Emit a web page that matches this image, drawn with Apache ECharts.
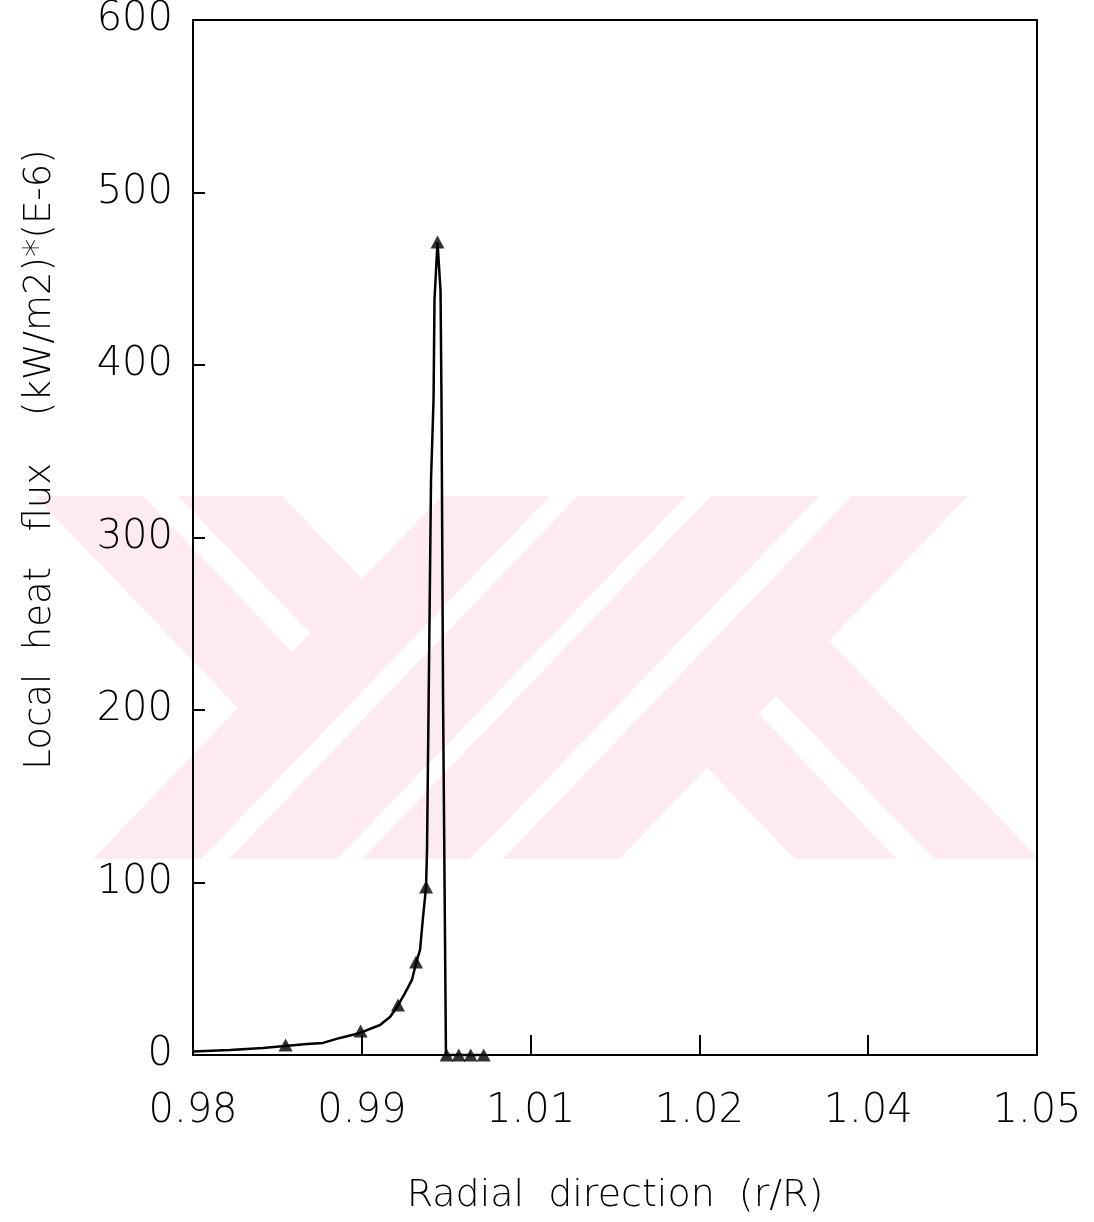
<!DOCTYPE html>
<html>
<head>
<meta charset="utf-8">
<script src="https://cdn.jsdelivr.net/npm/echarts@6/dist/echarts.min.js"></script>
<style>
html,body{margin:0;padding:0;background:#fff;}
#chart{width:1094px;height:1222px;}
</style>
</head>
<body>
<div id="chart"></div>
<script>
// ---- data ----
var xTickLabels = ['0.98', '0.99', '1.01', '1.02', '1.04', '1.05'];
var xMin = 0.98, xMax = 1.05, xStep = 0.014;
var yTickLabels = ['0', '100', '200', '300', '400', '500', '600'];
var yMin = 0, yMax = 600, yStep = 100;

var curveX = [0.98000, 0.98307, 0.98581, 0.98763, 0.98946, 0.99078, 0.99219, 0.99385, 0.99551, 0.99634,
              0.99692, 0.99758, 0.99816, 0.99850, 0.99883, 0.99908, 0.99933, 0.99941, 0.99974, 0.99995,
              1.00003, 1.00028, 1.00053, 1.00061, 1.00074, 1.00098, 1.00208, 1.00305, 1.00402];
var curveY = [2.0, 2.9, 4.1, 5.2, 6.4, 7.0, 9.9, 12.8, 17.4, 22.0,
              27.8, 35.9, 43.5, 53.3, 60.9, 80.0, 97.4, 119, 333, 380,
              438, 471.3, 443, 380, 206, 0, 0, 0, 0];

var markerX = [0.98768, 0.99390, 0.99700, 0.99850, 0.99933, 1.00028, 1.00104, 1.00204, 1.00303, 1.00411];
var markerY = [5.8, 13.9, 29.0, 53.9, 97.4, 471.3, 0, 0, 0, 0];

var xName = 'Radial  direction  (r/R)';
var yName = 'Local  heat   flux    (kW/m2)*(E-6)';

function pairs(xs, ys){ return xs.map(function(x,i){ return [x, ys[i]]; }); }

// ---- faint watermark (decoration) ----
var wmColor = '#fdebef';
var wmPolys = [
  [[35,496],[143,496],[346,708],[238,708]],
  [[178,496],[282,496],[414,633],[310,633]],
  [[442,496],[550,496],[201,859],[93,859]],
  [[578,496],[686,496],[337,859],[229,859]],
  [[711,496],[819,496],[470,859],[362,859]],
  [[852,496],[968,496],[619,859],[503,859]],
  [[795,859],[896,859],[760,715],[649,707]],
  [[934,859],[1039,859],[829,641],[718,635]]
];

var chart = echarts.init(document.getElementById('chart'), null, {renderer:'canvas'});
var font = 'DejaVu Sans';
var option = {
  backgroundColor: '#ffffff',
  animation: false,
  graphic: wmPolys.map(function(p){
    return { type:'polygon', z:-10, silent:true, shape:{points:p}, style:{fill:wmColor} };
  }),
  grid: { left:193, right:57, top:20, bottom:167, show:true, borderColor:'#000', borderWidth:2, backgroundColor:'transparent' },
  xAxis: {
    type:'value', min:xMin, max:xMax, interval:xStep,
    name: xName, nameLocation:'middle', nameGap:122,
    nameTextStyle:{ fontFamily:font, fontSize:38, color:'#000', fontWeight:300 },
    axisLine:{ show:true, lineStyle:{color:'#000', width:2} },
    axisTick:{ show:true, inside:true, length:20, lineStyle:{color:'#000', width:2} },
    axisLabel:{ margin:37, fontFamily:font, fontSize:40, color:'#000', fontWeight:300,
      formatter:function(v){ return xTickLabels[Math.round((v - xMin)/xStep)]; } },
    splitLine:{ show:false }
  },
  yAxis: {
    type:'value', min:yMin, max:yMax, interval:yStep,
    name: yName, nameLocation:'middle', nameGap:134, nameRotate:90,
    nameTextStyle:{ fontFamily:font, fontSize:37, color:'#000', fontWeight:300, padding:[0,0,0,156] },
    axisLine:{ show:true, lineStyle:{color:'#000', width:2} },
    axisTick:{ show:true, inside:true, length:12, lineStyle:{color:'#000', width:2} },
    axisLabel:{ margin:20, fontFamily:font, fontSize:40, color:'#000', fontWeight:300,
      formatter:function(v){ return yTickLabels[Math.round((v - yMin)/yStep)]; } },
    splitLine:{ show:false }
  },
  series: [
    { type:'line', data:pairs(curveX, curveY), showSymbol:false, symbol:'none', smooth:false,
      lineStyle:{ color:'#000', width:2.5 }, z:3, clip:false },
    { type:'scatter', data:pairs(markerX, markerY), symbol:'triangle', symbolSize:[14,13],
      itemStyle:{ color:'#000' }, z:4, clip:false }
  ]
};
chart.setOption(option);
</script>
</body>
</html>
